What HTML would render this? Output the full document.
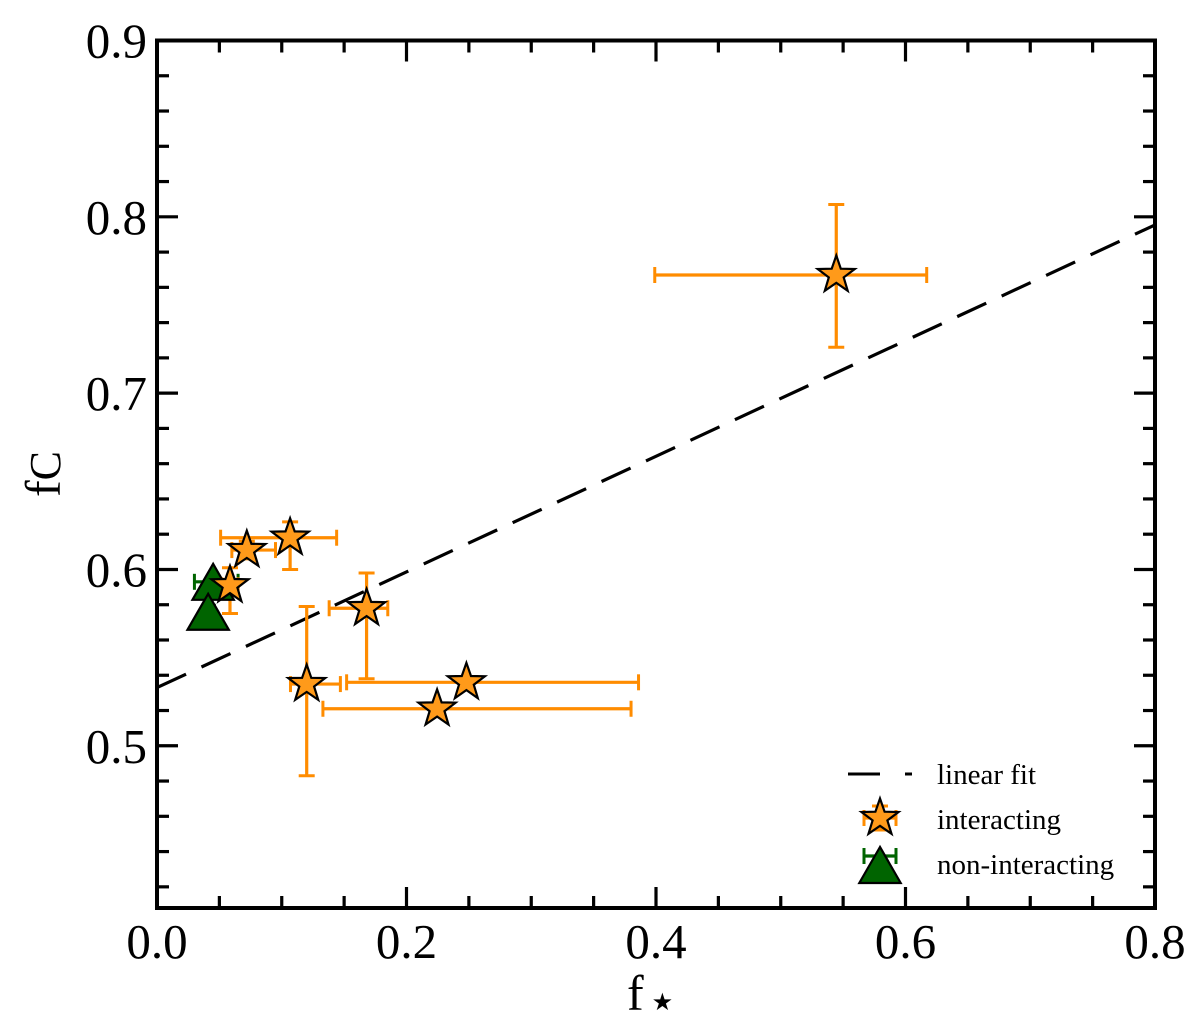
<!DOCTYPE html>
<html><head><meta charset="utf-8"><style>
html,body{margin:0;padding:0;background:#fff}
svg{display:block}
text{font-family:"Liberation Serif","DejaVu Serif",serif;fill:#000}
</style></head><body>
<svg id="chart" width="1200" height="1023" viewBox="0 0 1200 1023" xmlns="http://www.w3.org/2000/svg">
<g id="grid-layer"></g>
<g id="fit-layer"></g>
<g id="err-layer"></g>
<g id="mark-layer"></g>
<rect x="157" y="40.5" width="998" height="867.5" fill="none" stroke="#000" stroke-width="4"/>
<g id="label-layer"></g>
<text x="627" y="1010" font-size="50">f<tspan font-size="24" dx="8">★</tspan></text>
<text transform="translate(60,497) rotate(-90)" font-size="50">f<tspan font-size="44">C</tspan></text>
<g>
  <line x1="848" y1="774" x2="912" y2="774" stroke="#000" stroke-width="3" stroke-dasharray="32,25"/>
  <text x="937" y="784" font-size="29">linear fit</text>
  <g id="leg-int"></g>
  <text x="937" y="829" font-size="29">interacting</text>
  <g id="leg-non"></g>
  <text x="937" y="874" font-size="29">non-interacting</text>
</g>
</svg>
<script>
const xTicks=[0.0,0.2,0.4,0.6,0.8];
const xTickLabels=["0.0","0.2","0.4","0.6","0.8"];
const yTicks=[0.5,0.6,0.7,0.8,0.9];
const yTickLabels=["0.5","0.6","0.7","0.8","0.9"];
const intX=[0.5445,0.072,0.1067,0.0585,0.168,0.120,0.248,0.2245];
const intY=[0.767,0.611,0.618,0.591,0.578,0.535,0.536,0.521];
const intXlo=[0.399,0.060,0.051,0.052,0.138,0.107,0.152,0.133];
const intXhi=[0.617,0.095,0.144,0.065,0.185,0.147,0.386,0.380];
const intYlo=[0.726,0.606,0.600,0.575,0.538,0.483,0.536,0.521];
const intYhi=[0.807,0.616,0.627,0.601,0.598,0.579,0.536,0.521];
const nonX=[0.045,0.041];
const nonY=[0.593,0.576];
const nonXlo=[0.030,0.037];
const nonXhi=[0.065,0.046];
const fitIntercept=0.533, fitSlope=0.328;

const X0=157,X1=1155,Y0=908,Y1=40.5,xmin=0,xmax=0.8,ymin=0.408,ymax=0.9;
const sx=v=>X0+(v-xmin)/(xmax-xmin)*(X1-X0);
const sy=v=>Y0-(v-ymin)/(ymax-ymin)*(Y0-Y1);
const NS="http://www.w3.org/2000/svg";
function mk(tag,attrs,parent){const e=document.createElementNS(NS,tag);for(const k in attrs)e.setAttribute(k,attrs[k]);parent.appendChild(e);return e;}
const g=document.getElementById('grid-layer'),lab=document.getElementById('label-layer');
for(let i=0;i<=16;i++){const v=i*0.05,x=sx(v),L=(i%4==0)?21:12;
 const t1=mk('line',{x1:x,x2:x,y1:Y0,y2:Y0-L,stroke:'#000','stroke-width':3.2},g);
 
 
 const t2=mk('line',{x1:x,x2:x,y1:Y1,y2:Y1+L,stroke:'#000','stroke-width':3.2},g);
 
 }
for(let i=0;i<=24;i++){const v=0.42+i*0.02;if(v>0.9001)break;const y=sy(v),L=(Math.abs((v*10)-Math.round(v*10))<1e-6)?21:12;
 const t1=mk('line',{x1:X0,x2:X0+L,y1:y,y2:y,stroke:'#000','stroke-width':3.2},g);
 
 
 const t2=mk('line',{x1:X1,x2:X1-L,y1:y,y2:y,stroke:'#000','stroke-width':3.2},g);
 
 }
xTicks.forEach((v,i)=>{const t=mk('text',{x:sx(v),y:958,'font-size':49,'text-anchor':'middle'},lab);t.textContent=xTickLabels[i];
 
 });
yTicks.forEach((v,i)=>{const t=mk('text',{x:147,y:sy(v)+17,'font-size':49,'text-anchor':'end'},lab);t.textContent=yTickLabels[i];
 
 });
const fl=mk('line',{x1:sx(0),y1:sy(fitIntercept),x2:sx(0.8),y2:sy(fitIntercept+fitSlope*0.8),stroke:'#000','stroke-width':3.2,'stroke-dasharray':'32,17'},document.getElementById('fit-layer'));


const el=document.getElementById('err-layer'),ml=document.getElementById('mark-layer');
function err(px,py,xl,xh,yl,yh,col,par){
 const c=8;
 mk('line',{x1:xl,x2:xh,y1:py,y2:py,stroke:col,'stroke-width':3.2},par);
 mk('line',{x1:xl,x2:xl,y1:py-c,y2:py+c,stroke:col,'stroke-width':3},par);
 mk('line',{x1:xh,x2:xh,y1:py-c,y2:py+c,stroke:col,'stroke-width':3},par);
 if(Math.abs(yh-yl)>1){
 mk('line',{x1:px,x2:px,y1:yl,y2:yh,stroke:col,'stroke-width':3.2},par);
 mk('line',{x1:px-c,x2:px+c,y1:yl,y2:yl,stroke:col,'stroke-width':3},par);
 mk('line',{x1:px-c,x2:px+c,y1:yh,y2:yh,stroke:col,'stroke-width':3},par);}
}
function starPts(cx,cy,R){const r=R*0.4;let p=[];for(let k=0;k<10;k++){const a=-Math.PI/2+k*Math.PI/5,rr=k%2?r:R;p.push((cx+rr*Math.cos(a)).toFixed(1)+','+(cy+rr*Math.sin(a)).toFixed(1));}return p.join(' ');}
function triPts(cx,cy,s){return `${cx},${cy-s} ${cx-s*1.15},${cy+s} ${cx+s*1.15},${cy+s}`;}
nonX.forEach((v,i)=>{const ge=mk('g',{},el);
 
 
 err(sx(v),sy(nonY[i]),sx(nonXlo[i]),sx(nonXhi[i]),sy(nonY[i]),sy(nonY[i]),'#006400',ge);});
intX.forEach((v,i)=>{const ge=mk('g',{},el);
 
 
 err(sx(v),sy(intY[i]),sx(intXlo[i]),sx(intXhi[i]),sy(intYlo[i]),sy(intYhi[i]),'#ff8c00',ge);});
nonX.forEach((v,i)=>{const p=mk('polygon',{points:triPts(sx(v),sy(nonY[i]),18),fill:'#006400',stroke:'#000','stroke-width':2.2},ml);
 
 });
intX.forEach((v,i)=>{const p=mk('polygon',{points:starPts(sx(v),sy(intY[i]),19.5),fill:'#ff9a1a',stroke:'#000','stroke-width':2.2},ml);
 
 });
const li=document.getElementById('leg-int');
err(880,818,864,896,806,830,'#ff8c00',li);
mk('polygon',{points:starPts(880,818,19.5),fill:'#ff9a1a',stroke:'#000','stroke-width':2.2},li);
const ln=document.getElementById('leg-non');
err(880,856,864,896,856,856,'#006400',ln);
mk('polygon',{points:triPts(880,865,18),fill:'#006400',stroke:'#000','stroke-width':2.2},ln);
</script>
</body></html>
